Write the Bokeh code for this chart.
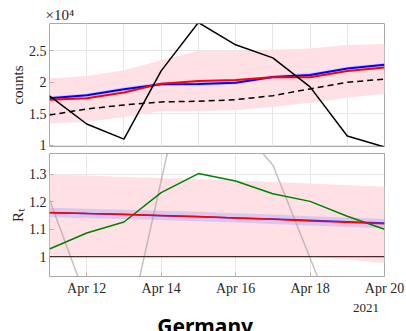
import pandas as pd
from bokeh.plotting import figure
from bokeh.layouts import column
from bokeh.models import (ColumnDataSource, Range1d, Grid, DaysTicker, DatetimeTickFormatter,
                          FixedTicker, Label, Span, Title)
from bokeh.embed import file_html
from bokeh.resources import INLINE

# ---------------- data ----------------
dates = ["2021-04-11", "2021-04-12", "2021-04-13", "2021-04-14", "2021-04-15",
         "2021-04-16", "2021-04-17", "2021-04-18", "2021-04-19", "2021-04-20"]

# top panel (counts)
observed = [17820, 13360, 10960, 21810, 29500, 25960, 23880, 19260, 11440, 9700]
fit_blue = [17460, 17930, 18890, 19690, 19740, 19940, 20850, 21170, 22180, 22770]
fit_red = [17230, 17460, 18380, 19780, 20210, 20370, 20810, 20810, 21810, 22340]
dashed = [14790, 15750, 16390, 16870, 16980, 17230, 17870, 18940, 20010, 20490]
band_hi = [20580, 21010, 21920, 23520, 25000, 25000, 25160, 25370, 25910, 26070]
band_lo = [13420, 13720, 14470, 15430, 15430, 15530, 16070, 16750, 17550, 18190]
blue_hw = [300, 300, 300, 300, 300, 300, 300, 300, 300, 300]

count_ticks = [10000, 15000, 20000, 25000]
count_labels = ["1", "1.5", "2", "2.5"]

# bottom panel (R_t)
rt_obs = [1.208, 0.84, 0.67, 1.276, 1.88, 1.49, 1.333, 0.995, 0.66, 0.55]
rt_green = [1.028, 1.086, 1.126, 1.233, 1.302, 1.275, 1.229, 1.201, 1.147, 1.100]
rt_red = [1.161, 1.157, 1.154, 1.150, 1.146, 1.141, 1.136, 1.130, 1.125, 1.120]
rt_blue = [1.160, 1.157, 1.153, 1.149, 1.145, 1.141, 1.137, 1.132, 1.127, 1.122]
rt_hw = [0.017, 0.017, 0.017, 0.017, 0.017, 0.017, 0.017, 0.017, 0.017, 0.017]
rt_band_hi = [1.299, 1.295, 1.290, 1.286, 1.282, 1.277, 1.271, 1.266, 1.260, 1.254]
rt_band_lo = [1.003, 1.003, 1.003, 1.002, 1.002, 1.002, 1.001, 1.000, 0.990, 0.977]
rt_ticks = [1.0, 1.1, 1.2, 1.3]
rt_labels = ["1", "1.1", "1.2", "1.3"]

tick_days = [12, 14, 16, 18, 20]
year_label = "2021"
year_label_at = "2021-04-19 12:00"
title_text = "Germany"
title_at = "2021-04-15 04:20"

x = pd.to_datetime(dates)
x0 = x[0]
x1 = x[-1]

SERIF = "Liberation Serif"
FRAME_W, FRAME_H = 335, 123
BL, BR = 49, 21
GRID_COLOR = "#e6e6e6"
FRAME_COLOR = "#a8a8a8"
TXT = "#262626"
RT_LO, RT_HI = 0.928, 1.375
CAP_H = 33

src1 = ColumnDataSource(dict(
    x=x, observed=observed, blue=fit_blue, red=fit_red, dashed=dashed,
    hi=band_hi, lo=band_lo,
    bhi=[b + h for b, h in zip(fit_blue, blue_hw)],
    blo=[b - h for b, h in zip(fit_blue, blue_hw)],
))
src2 = ColumnDataSource(dict(
    x=x, obs=rt_obs, green=rt_green, red=rt_red, blue=rt_blue,
    hi=rt_band_hi, lo=rt_band_lo,
    phi=[r + h for r, h in zip(rt_red, rt_hw)],
    plo=[r - h for r, h in zip(rt_red, rt_hw)],
))


def style(p):
    p.outline_line_color = FRAME_COLOR
    p.outline_line_width = 1
    p.background_fill_color = "white"
    p.border_fill_color = "white"
    for ax in p.yaxis:
        ax.axis_line_color = None
        ax.major_tick_in = 4
        ax.major_tick_out = 0
        ax.major_tick_line_color = "#b0b0b0"
        ax.minor_tick_line_color = None
        ax.major_label_text_font = SERIF
        ax.major_label_text_font_size = "14px"
        ax.major_label_text_color = TXT
        ax.major_label_standoff = 3
        ax.axis_label_text_font = SERIF
        ax.axis_label_text_font_size = "15px"
        ax.axis_label_text_font_style = "normal"
        ax.axis_label_text_color = TXT
        ax.axis_label_standoff = 0
    p.ygrid.grid_line_color = GRID_COLOR


# ---------------- top panel ----------------
p1 = figure(frame_width=FRAME_W, frame_height=FRAME_H, x_axis_type="datetime",
            x_axis_location=None, output_backend="svg", toolbar_location=None,
            title_location=None,
            min_border_left=BL, min_border_right=BR, min_border_top=23, min_border_bottom=6,
            x_range=Range1d(x0, x1), y_range=Range1d(9780, 29350))
p1.add_layout(Grid(dimension=0, ticker=DaysTicker(days=tick_days),
                   grid_line_color=GRID_COLOR))
p1.yaxis.ticker = FixedTicker(ticks=count_ticks)
p1.yaxis.major_label_overrides = dict(zip(count_ticks, count_labels))
p1.yaxis.axis_label = "counts"
style(p1)

p1.varea(x="x", y1="lo", y2="hi", source=src1, fill_color="#ffe0e4")
p1.varea(x="x", y1="blo", y2="bhi", source=src1, fill_color="#c8c0f4", fill_alpha=0.8)
p1.line(x="x", y="dashed", source=src1, line_color="black", line_width=1.5, line_dash="6 4")
p1.line(x="x", y="blue", source=src1, line_color="#0000ff", line_width=2)
p1.line(x="x", y="red", source=src1, line_color="#ff0000", line_width=2)
p1.line(x="x", y="observed", source=src1, line_color="black", line_width=1.5)

p1.add_layout(Title(text="×10⁴", align="left", text_font=SERIF, text_font_size="15px",
                    text_font_style="normal", text_color=TXT, standoff=1, offset=-4),
              "above")

# ---------------- bottom panel ----------------
p2 = figure(frame_width=FRAME_W, frame_height=FRAME_H, x_axis_type="datetime",
            output_backend="svg", toolbar_location=None, title_location=None,
            min_border_left=BL, min_border_right=BR, min_border_top=1, min_border_bottom=22,
            x_range=p1.x_range, y_range=Range1d(RT_LO, RT_HI))
xa = p2.xaxis[0]
xa.axis_label = None
xa.ticker = DaysTicker(days=tick_days)
xa.formatter = DatetimeTickFormatter(days="%b %d", months="%b %d")
xa.axis_line_color = None
xa.major_tick_in = 4
xa.major_tick_out = 0
xa.major_tick_line_color = "#b0b0b0"
xa.minor_tick_line_color = None
xa.major_label_text_font = SERIF
xa.major_label_text_font_size = "14px"
xa.major_label_text_color = TXT
xa.major_label_standoff = 4
p2.xgrid.ticker = DaysTicker(days=tick_days)
p2.xgrid.grid_line_color = GRID_COLOR
p2.yaxis.ticker = FixedTicker(ticks=rt_ticks)
p2.yaxis.major_label_overrides = dict(zip(rt_ticks, rt_labels))
p2.yaxis.axis_label = "Rₜ"
style(p2)

p2.varea(x="x", y1="lo", y2="hi", source=src2, fill_color="#ffe0e4")
p2.add_layout(Span(location=1.0, dimension="width", line_color="#4a2c2c", line_width=1.2))
p2.varea(x="x", y1="plo", y2="phi", source=src2, fill_color="#d8c4ec", fill_alpha=0.9)
p2.line(x="x", y="obs", source=src2, line_color="#a8a0a0", line_alpha=0.65, line_width=1.5)
p2.line(x="x", y="green", source=src2, line_color="#008000", line_width=1.5)
p2.line(x="x", y="blue", source=src2, line_color="#3030ff", line_width=1.5)
p2.line(x="x", y="red", source=src2, line_color="#ff0000", line_width=1.5)

# ---------------- caption strip (year + title) ----------------
p3 = figure(frame_width=FRAME_W, height=CAP_H, x_axis_type="datetime",
            output_backend="svg", toolbar_location=None,
            x_axis_location=None, y_axis_location=None, title_location=None,
            min_border_left=BL, min_border_right=BR, min_border_top=0, min_border_bottom=0,
            x_range=p1.x_range, y_range=Range1d(CAP_H, 0))
p3.outline_line_color = None
p3.background_fill_color = "white"
p3.border_fill_color = "white"
p3.xgrid.visible = False
p3.ygrid.visible = False
p3.add_layout(Label(x=pd.Timestamp(year_label_at).value / 1e6, y=9.8, text=year_label,
                    text_font=SERIF, text_font_size="13px", text_color=TXT,
                    text_align="center", text_baseline="alphabetic"))
p3.add_layout(Label(x=pd.Timestamp(title_at).value / 1e6, y=27.2, text=title_text,
                    text_font="Noto Sans", text_font_size="21px", text_font_style="bold",
                    text_color="black", text_align="center", text_baseline="alphabetic"))

layout = column(p1, p2, p3, spacing=0)
open("out.html", "w").write(file_html(layout, INLINE))
